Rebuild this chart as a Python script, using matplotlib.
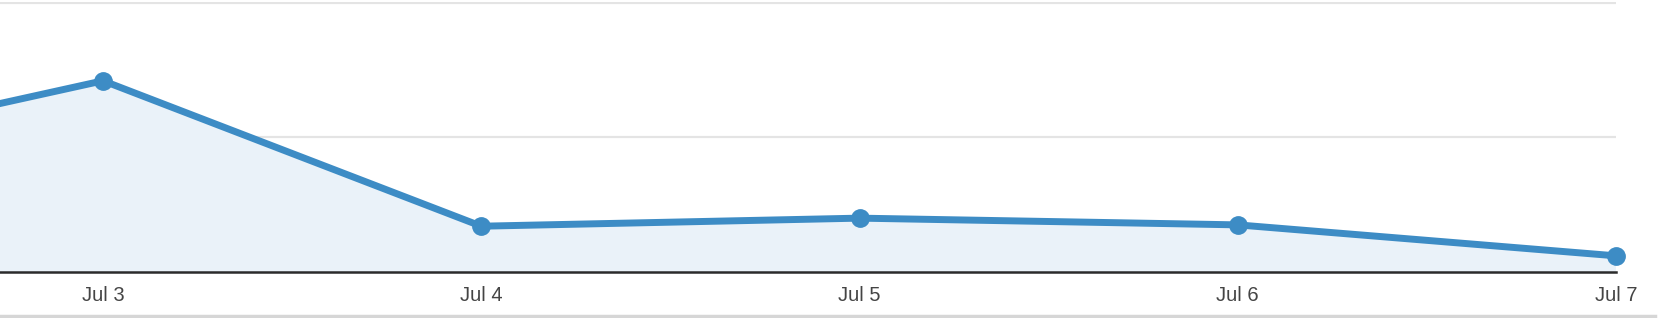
import numpy as np
import matplotlib
matplotlib.use("Agg")
import matplotlib.pyplot as plt
import matplotlib.dates as mdates
from matplotlib.lines import Line2D

#%% Data (no y labels visible so units are arbitrary)
dates = np.array(['2024-07-02', '2024-07-03', '2024-07-04', '2024-07-05',
                  '2024-07-06', '2024-07-07'], dtype='datetime64[D]')
values = [80, 142, 34, 40, 35, 12]
tick_dates = dates[1:]
tick_labels = ['Jul 3', 'Jul 4', 'Jul 5', 'Jul 6', 'Jul 7']

line_color = '#3d8cc5'
fill_color = '#eaf2f9'

#%% Figure
W, H = 1662, 318
fig = plt.figure(figsize=(W / 100, H / 100), dpi=100)
ax = fig.add_axes([0, (H - 272) / H, 1616 / W, 270 / H])

x = mdates.date2num(dates)
ax.fill_between(x, values, 0, color=fill_color, lw=0, zorder=1)
ax.plot(x, values, color=line_color, lw=5, marker='o', ms=12.5,
        solid_joinstyle='round', zorder=3, clip_on=False)

# x range: Jul 3 sits about 103 px from the left edge
day_px = (1615 - 103) / 4
x7 = mdates.date2num(np.datetime64('2024-07-07'))
x3 = mdates.date2num(np.datetime64('2024-07-03'))
ax.set_xlim(x3 - 103 / day_px, x7)
ax.set_ylim(0, 200.5)

ax.set_xticks(mdates.date2num(tick_dates))
ax.set_xticklabels(tick_labels, fontsize=14.5, color='#444444',
                   family=['Liberation Sans', 'DejaVu Sans'])
ax.tick_params(axis='x', length=0, pad=10)
ax.set_yticks([100, 200])
ax.tick_params(axis='y', length=0, labelleft=False)
ax.grid(axis='y', color='#e4e4e4', lw=1.6, zorder=0)
ax.set_axisbelow(True)

for side in ['top', 'right', 'left']:
    ax.spines[side].set_visible(False)
ax.spines['bottom'].set_color('#2b2b2b')
ax.spines['bottom'].set_linewidth(1.8)
ax.spines['bottom'].set_zorder(4)

# thin grey rule at the very bottom of the screenshot
fig.add_artist(Line2D([0, 1655 / W], [2 / H, 2 / H], color='#d6d6d6', lw=2.5))

fig.savefig('out.png', dpi=100, facecolor='white')
